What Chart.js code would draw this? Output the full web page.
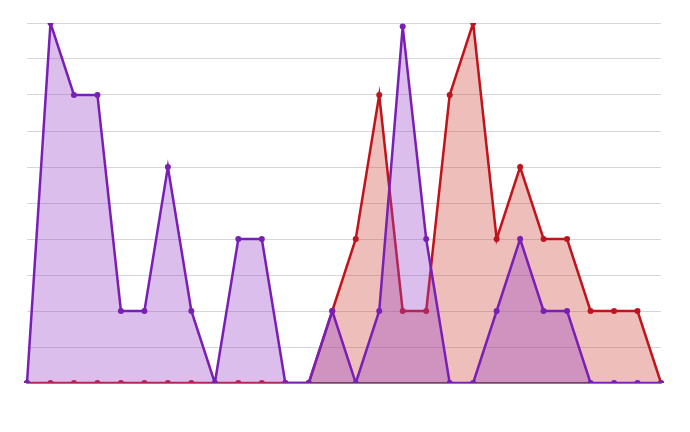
<!DOCTYPE html>
<html><head><script src="https://cdn.jsdelivr.net/npm/chart.js@4"></script>
<style>body{margin:0;background:#fff}#w{width:690px;height:432px}</style></head>
<body><div id="w"><canvas id="c"></canvas></div>
<script>
const categories = Array.from({length:28},(_, i)=>String(i+1));
const purpleValues = [0,10,8,8,2,2,6,2,0,4,4,0,0,2,0,2,9.9,4,0,0,2,4,2,2,0,0,0,0];
const redValues = [0,0,0,0,0,0,0,0,0,0,0,0,0,2,4,8,2,2,8,10,4,6,4,4,2,2,2,0];
new Chart(document.getElementById('c'),{
  type:'line',
  data:{labels:categories,datasets:[
    {data:purpleValues,borderColor:'#7a1fb5',backgroundColor:'rgba(155,70,200,0.35)',fill:'origin',borderWidth:2.5,pointRadius:3,pointBackgroundColor:'#7a1fb5',pointBorderWidth:0,tension:0,order:1},
    {data:redValues,borderColor:'#c0141c',backgroundColor:'rgba(205,70,60,0.35)',fill:'origin',borderWidth:2.5,pointRadius:3,pointBackgroundColor:'#c0141c',pointBorderWidth:0,tension:0,order:2}
  ]},
  options:{responsive:true,maintainAspectRatio:false,animation:false,
    layout:{padding:{left:27,right:29,top:23,bottom:49}},
    plugins:{legend:{display:false},tooltip:{enabled:false}},
    scales:{
      x:{display:true,grid:{display:false,drawTicks:false},ticks:{display:false},border:{display:true,color:'#333',width:1.5}},
      y:{min:0,max:10,grid:{color:'#d6d6d6',drawTicks:false,lineWidth:1},ticks:{display:false,stepSize:1},border:{display:false}}
    }}
});
</script></body></html>
